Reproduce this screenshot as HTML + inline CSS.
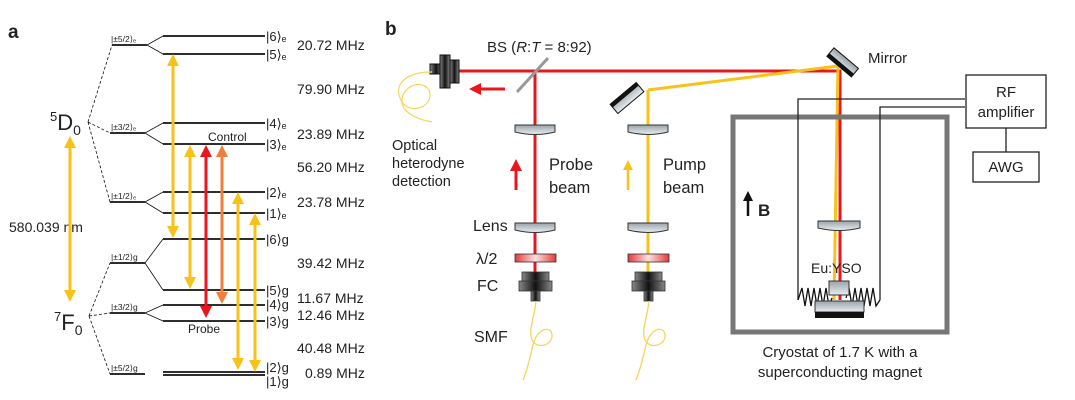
<!DOCTYPE html><html><head><meta charset="utf-8"><style>body{margin:0;background:#fff}svg{display:block}text{font-family:"Liberation Sans",Arial,sans-serif;fill:#222}</style></head><body>
<svg width="1075" height="400" viewBox="0 0 1075 400" xmlns="http://www.w3.org/2000/svg">
<defs>
<marker id="ay" markerWidth="4" markerHeight="4" refX="2" refY="2" orient="auto-start-reverse" markerUnits="strokeWidth"><path d="M0,0L4,2L0,4z" fill="#f7c21a"/></marker>
<marker id="ar" markerWidth="4" markerHeight="4" refX="2" refY="2" orient="auto-start-reverse" markerUnits="strokeWidth"><path d="M0,0L4,2L0,4z" fill="#e8171c"/></marker>
<marker id="ao" markerWidth="4" markerHeight="4" refX="2" refY="2" orient="auto-start-reverse" markerUnits="strokeWidth"><path d="M0,0L4,2L0,4z" fill="#ee7f3c"/></marker>
<marker id="ak" markerWidth="4" markerHeight="4" refX="2" refY="2" orient="auto" markerUnits="strokeWidth"><path d="M0,0L4,2L0,4z" fill="#111"/></marker>
<linearGradient id="gl" x1="0" y1="0" x2="0" y2="1"><stop offset="0" stop-color="#9aa3ab"/><stop offset="1" stop-color="#e8edf0"/></linearGradient>
<linearGradient id="gw" x1="0" y1="0" x2="1" y2="0"><stop offset="0" stop-color="#e23a3a"/><stop offset=".5" stop-color="#fde0e0"/><stop offset="1" stop-color="#e23a3a"/></linearGradient>
<linearGradient id="gk" x1="0" y1="0" x2="1" y2="0"><stop offset="0" stop-color="#888"/><stop offset=".5" stop-color="#111"/><stop offset="1" stop-color="#888"/></linearGradient>
</defs>
<text x="8" y="38" font-size="19" font-weight="bold" fill="#111">a</text>
<g stroke="#111" stroke-width="1.8" fill="none">
<path d="M112,45H147M163,36H265M163,54H265M110,133H145M163,123H265M163,144H265M110,202H145M163,192H265M163,213H265M110,263H145M163,239H265M163,290H265M110,313H145M163,305H265M163,321H265M110,374H145M163,372H265M163,375H265"/>
</g>
<g stroke="#111" stroke-width="0.8" fill="none">
<path d="M147,45L163,36M147,45L163,54M145,133L163,123M145,133L163,144M145,202L163,192M145,202L163,213M145,263L163,239M145,263L163,290M145,313L163,305M145,313L163,321"/>
<path d="M88,122L112,45M88,122L110,133M88,122L110,202M89,316L110,263M89,316L110,313M89,316L110,374" stroke-dasharray="3,2"/>
</g>
<g font-size="8.5"><text x="111" y="42">|±5/2⟩ₑ</text><text x="111" y="130">|±3/2⟩ₑ</text><text x="111" y="199">|±1/2⟩ₑ</text><text x="111" y="260">|±1/2⟩g</text><text x="111" y="310">|±3/2⟩g</text><text x="111" y="371">|±5/2⟩g</text></g>
<g font-size="13"><text x="266" y="41">|6⟩ₑ</text><text x="266" y="59">|5⟩ₑ</text><text x="266" y="128">|4⟩ₑ</text><text x="266" y="149">|3⟩ₑ</text><text x="266" y="197">|2⟩ₑ</text><text x="266" y="218">|1⟩ₑ</text><text x="266" y="244">|6⟩g</text><text x="266" y="295">|5⟩g</text><text x="266" y="309">|4⟩g</text><text x="266" y="326">|3⟩g</text><text x="266" y="372">|2⟩g</text><text x="266" y="386">|1⟩g</text></g>
<g font-size="14"><text x="297" y="50">20.72 MHz</text><text x="297" y="94">79.90 MHz</text><text x="297" y="139">23.89 MHz</text><text x="297" y="172">56.20 MHz</text><text x="297" y="207">23.78 MHz</text><text x="297" y="268">39.42 MHz</text><text x="297" y="303">11.67 MHz</text><text x="297" y="320">12.46 MHz</text><text x="297" y="353">40.48 MHz</text><text x="305" y="378">0.89 MHz</text></g>
<text x="50" y="130" font-size="22"><tspan font-size="13" dy="-9">5</tspan><tspan dy="9">D</tspan><tspan font-size="14" dy="5">0</tspan></text>
<text x="54" y="330" font-size="22"><tspan font-size="13" dy="-9">7</tspan><tspan dy="9">F</tspan><tspan font-size="14" dy="5">0</tspan></text>
<text x="9" y="232" font-size="14">580.039 nm</text>
<text x="208" y="141" font-size="12">Control</text>
<text x="188" y="333" font-size="12">Probe</text>
<g stroke-width="3" fill="none">
<path d="M70,142V296" stroke="#f7c21a" marker-start="url(#ay)" marker-end="url(#ay)"/>
<path d="M173,60V232" stroke="#f7c21a" marker-start="url(#ay)" marker-end="url(#ay)"/>
<path d="M190,151V283" stroke="#f7c21a" marker-start="url(#ay)" marker-end="url(#ay)"/>
<path d="M206,151V312" stroke="#e8171c" marker-start="url(#ar)" marker-end="url(#ar)"/>
<path d="M222,151V298" stroke="#ee7f3c" marker-start="url(#ao)" marker-end="url(#ao)"/>
<path d="M238,198V364" stroke="#f7c21a" marker-start="url(#ay)" marker-end="url(#ay)"/>
<path d="M255,219V366" stroke="#f7c21a" marker-start="url(#ay)" marker-end="url(#ay)"/>
</g>
<text x="385" y="35" font-size="19" font-weight="bold" fill="#111">b</text>
<text x="487" y="52" font-size="15">BS (<tspan font-style="italic">R</tspan>:<tspan font-style="italic">T</tspan> = 8:92)</text>
<path d="M458,71H840V300" stroke="#e8171c" stroke-width="3" fill="none"/>
<path d="M535,71V290" stroke="#e8171c" stroke-width="3"/>
<path d="M648,90V290M648,90L838,66L834,300" stroke="#f7c21a" stroke-width="3" fill="none"/>
<path d="M517,92L548,58" stroke="#999" stroke-width="3"/>
<path d="M505,89H475" stroke="#e8171c" stroke-width="3" marker-end="url(#ar)"/>
<path d="M516,190V165" stroke="#e8171c" stroke-width="3" marker-end="url(#ar)"/>
<path d="M628,190V165" stroke="#f7c21a" stroke-width="2.5" marker-end="url(#ay)"/>
<rect x="430" y="64" width="12" height="10" fill="url(#gk)" stroke="#111"/>
<rect x="440" y="55" width="10" height="33" fill="url(#gk)" stroke="#111"/>
<rect x="450" y="60" width="9" height="23" fill="url(#gk)" stroke="#111"/>
<path d="M432,72C405,72 392,85 402,102C410,114 430,108 430,95C430,82 410,80 403,95C398,108 410,118 432,122" stroke="#f5d55a" stroke-width="1.2" fill="none"/>
<text x="392" y="150" font-size="14.5">Optical</text><text x="392" y="168" font-size="14.5">heterodyne</text><text x="392" y="186" font-size="14.5">detection</text>
<text x="549" y="170" font-size="16.5">Probe</text><text x="549" y="193" font-size="16.5">beam</text>
<text x="663" y="170" font-size="16.5">Pump</text><text x="663" y="193" font-size="16.5">beam</text>
<g transform="translate(627,98) rotate(-40)"><rect x="-17" y="-6" width="34" height="12" fill="url(#gl)" stroke="#111"/><rect x="-17" y="-6" width="34" height="4" fill="#111"/></g>
<g transform="translate(843,62) rotate(40)"><rect x="-16" y="-5" width="32" height="11" fill="url(#gl)" stroke="#111"/><rect x="-16" y="2" width="32" height="4" fill="#111"/></g>
<text x="868" y="63" font-size="15">Mirror</text>
<g stroke="#333" stroke-width="1" fill="url(#gl)">
<path d="M515,125H555V132Q535,137 515,132Z"/><path d="M628,125H668V132Q648,137 628,132Z"/>
<path d="M515,223H555V230Q535,235 515,230Z"/><path d="M628,223H668V230Q648,235 628,230Z"/>
<path d="M818,221H860V228Q839,233 818,228Z"/>
</g>
<rect x="515" y="254" width="41" height="8" fill="url(#gw)" stroke="#333" stroke-width="0.8"/>
<rect x="628" y="254" width="41" height="8" fill="url(#gw)" stroke="#333" stroke-width="0.8"/>
<g stroke="#333" stroke-width="0.8" fill="url(#gk)">
<rect x="522" y="272" width="27" height="10"/><rect x="519" y="281" width="33" height="10"/><rect x="531" y="291" width="9" height="10"/>
<rect x="635" y="272" width="27" height="10"/><rect x="632" y="281" width="33" height="10"/><rect x="644" y="291" width="9" height="10"/>
</g>
<path d="M536,301C534,320 528,330 532,340C537,350 553,345 552,335C551,325 537,328 533,345C530,357 528,368 523,380" stroke="#f5d55a" stroke-width="1.3" fill="none"/>
<path d="M649,301C647,320 641,330 645,340C650,350 666,345 665,335C664,325 650,328 646,345C643,357 641,368 636,380" stroke="#f5d55a" stroke-width="1.3" fill="none"/>
<text x="473" y="231" font-size="16">Lens</text><text x="476" y="264" font-size="16">λ/2</text><text x="477" y="291" font-size="16">FC</text><text x="474" y="342" font-size="16">SMF</text>
<rect x="733" y="117" width="214" height="215" fill="none" stroke="#777" stroke-width="5"/>
<path d="M798,300V99H965M880,300V107H965" stroke="#222" stroke-width="1.3" fill="none"/>
<path d="M798,300L802,288L805,306L808,288L811,306L814,288L817,306L820,288L823,306L826,288L829,306L832,298M846,298L849,288L852,306L855,288L858,306L861,288L864,306L867,288L870,306L873,288L876,306L880,300" stroke="#111" stroke-width="1.3" fill="none"/>
<rect x="829" y="281" width="20" height="14" fill="url(#gl)" stroke="#333"/>
<rect x="815" y="301" width="49" height="11" fill="url(#gl)" stroke="#333"/>
<rect x="815" y="312" width="49" height="6" fill="#111"/>
<text x="811" y="273" font-size="14">Eu:YSO</text>
<path d="M748,216V196" stroke="#111" stroke-width="2.5" marker-end="url(#ak)"/>
<text x="758" y="216" font-size="17" font-weight="bold" fill="#111">B</text>
<rect x="966" y="75" width="80" height="53" fill="#fff" stroke="#222" stroke-width="1.3"/>
<text x="1006" y="97" font-size="15" text-anchor="middle">RF</text><text x="1006" y="117" font-size="15" text-anchor="middle">amplifier</text>
<path d="M1006,128V152" stroke="#222" stroke-width="1.3"/>
<rect x="973" y="152" width="66" height="30" fill="#fff" stroke="#222" stroke-width="1.3"/>
<text x="1006" y="172" font-size="15" text-anchor="middle">AWG</text>
<text x="840" y="357" font-size="15" text-anchor="middle">Cryostat of 1.7 K with a</text>
<text x="840" y="377" font-size="15" text-anchor="middle">superconducting magnet</text>
</svg></body></html>
